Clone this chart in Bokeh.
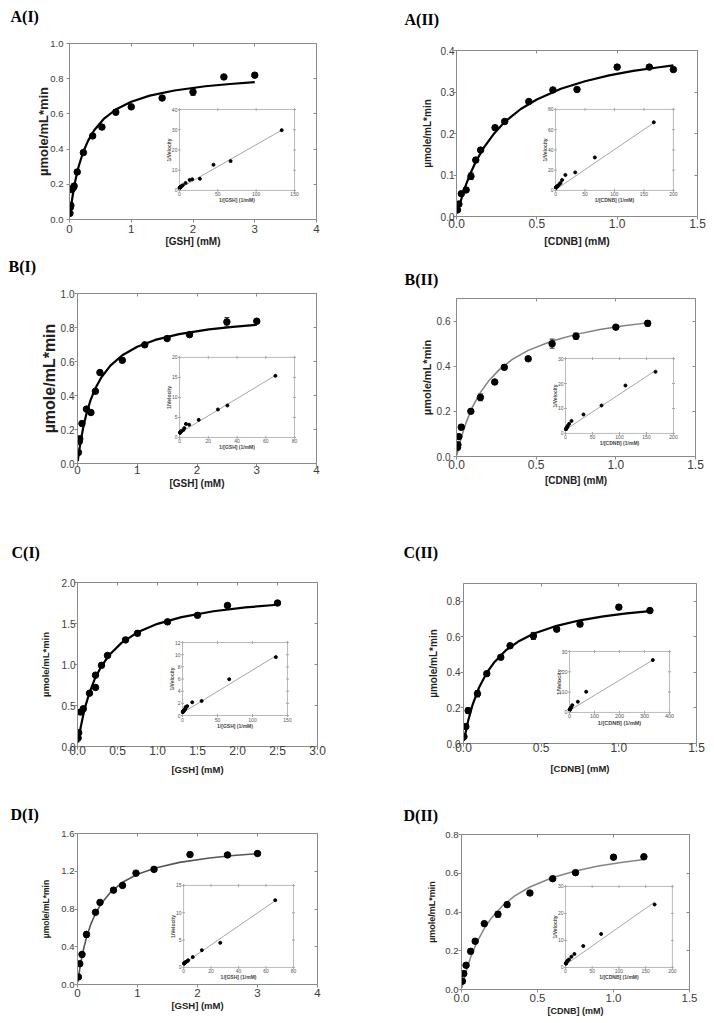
import math
from bokeh.plotting import figure
from bokeh.models import (Range1d, LinearAxis, FixedTicker, NumeralTickFormatter, Title,
                          CustomJSTickFormatter, Whisker, TeeHead, ColumnDataSource)
from bokeh.layouts import column, row
from bokeh.embed import file_html
from bokeh.resources import INLINE
from bokeh.core.properties import value

SANS = "Liberation Sans"
SERIF = "Liberation Serif"
AXIS = "#8a8a8a"
TICKC = "#3c3c3c"
LABC = "#222222"
IAX = "#a8a8a8"

Y_LABEL = "µmole/mL*min"
GSH_LABEL = "[GSH] (mM)"
CDNB_LABEL = "[CDNB] (mM)"
INV_GSH = "1/[GSH] (1/mM)"
INV_CDNB = "1/[CDNB] (1/mM)"
INV_V = "1/Velocity"

# ---------------- A(I) ----------------
A1_X = [0.0075, 0.015, 0.0225, 0.0375, 0.06, 0.075, 0.125, 0.225, 0.375, 0.525, 0.75, 1.0, 1.5, 2.0, 2.5, 3.0]
A1_Y = [0.035, 0.07, 0.08, 0.17, 0.18, 0.19, 0.27, 0.38, 0.475, 0.525, 0.61, 0.64, 0.69, 0.725, 0.81, 0.82]
A1_E = [0.004, 0.005, 0.005, 0.005, 0.005, 0.006, 0.006, 0.006, 0.006, 0.006, 0.015, 0.006, 0.006, 0.02, 0.008, 0.012]
A1_CX = [0.0075, 0.02, 0.04, 0.07, 0.1, 0.15, 0.22, 0.3, 0.4, 0.55, 0.75, 1.0, 1.3, 1.7, 2.2, 2.6, 3.0]
A1_CY = [0.023, 0.059, 0.110, 0.175, 0.230, 0.304, 0.382, 0.447, 0.507, 0.570, 0.625, 0.669, 0.704, 0.733, 0.757, 0.770, 0.780]
A1_IX = [0.33, 0.4, 0.5, 0.67, 1.0, 1.33, 1.9, 2.67, 4.4, 8.0, 13.3, 16.7, 26.7, 44.4, 66.7, 133.3]
A1_IY = [1.22, 1.23, 1.38, 1.45, 1.56, 1.64, 1.9, 2.1, 2.6, 3.7, 5.2, 5.5, 5.8, 12.7, 14.5, 29.8]
A1_FX = [0.0, 133.3]
A1_FY = [1.0, 29.8]
A1_XT = [0, 1, 2, 3, 4]
A1_YT = [0.0, 0.2, 0.4, 0.6, 0.8, 1.0]
A1_IXT = [0, 50, 100, 150]
A1_IYT = [0, 10, 20, 30, 40]

# ---------------- A(II) ----------------
A2_X = [0.006, 0.015, 0.03, 0.06, 0.09, 0.12, 0.15, 0.24, 0.3, 0.45, 0.6, 0.75, 1.0, 1.2, 1.35]
A2_Y = [0.016, 0.03, 0.055, 0.064, 0.097, 0.136, 0.16, 0.214, 0.229, 0.277, 0.305, 0.306, 0.36, 0.36, 0.354]
A2_E = [0.003, 0.003, 0.003, 0.003, 0.008, 0.004, 0.004, 0.004, 0.003, 0.003, 0.003, 0.004, 0.006, 0.003, 0.003]
A2_CX = [0.005, 0.02, 0.05, 0.08, 0.12, 0.17, 0.23, 0.3, 0.4, 0.5, 0.65, 0.8, 0.95, 1.1, 1.25, 1.35]
A2_CY = [0.008, 0.029, 0.067, 0.098, 0.132, 0.166, 0.198, 0.228, 0.259, 0.282, 0.308, 0.326, 0.340, 0.351, 0.359, 0.364]
A2_IX = [0.74, 0.83, 1.0, 1.33, 1.67, 2.22, 3.33, 4.17, 6.67, 8.33, 11.1, 16.7, 33.3, 66.7, 166.7]
A2_IY = [2.83, 2.78, 2.78, 3.27, 3.28, 3.61, 4.37, 4.67, 6.25, 7.35, 10.3, 15.3, 17.8, 32.6, 67.3]
A2_FX = [0.0, 166.7]
A2_FY = [0.8, 66.8]
A2_XT = [0.0, 0.5, 1.0, 1.5]
A2_YT = [0.0, 0.1, 0.2, 0.3, 0.4]
A2_IXT = [0, 50, 100, 150, 200]
A2_IYT = [0, 20, 40, 60, 80]

# ---------------- B(I) ----------------
B1_X = [0.015, 0.03, 0.0375, 0.075, 0.15, 0.225, 0.3, 0.375, 0.75, 1.125, 1.5, 1.875, 2.5, 3.0]
B1_Y = [0.065, 0.13, 0.145, 0.235, 0.32, 0.3, 0.425, 0.535, 0.607, 0.698, 0.735, 0.758, 0.833, 0.837]
B1_E = [0.005, 0.01, 0.006, 0.012, 0.006, 0.006, 0.006, 0.006, 0.006, 0.006, 0.006, 0.01, 0.025, 0.008]
B1_CX = [0.005, 0.02, 0.05, 0.1, 0.15, 0.22, 0.3, 0.4, 0.55, 0.75, 1.0, 1.3, 1.7, 2.2, 2.6, 3.0]
B1_CY = [0.014, 0.055, 0.125, 0.220, 0.293, 0.374, 0.443, 0.507, 0.576, 0.637, 0.687, 0.727, 0.761, 0.789, 0.804, 0.816]
B1_IX = [0.33, 0.4, 0.53, 0.67, 0.89, 1.33, 2.67, 3.33, 4.44, 6.67, 13.3, 26.7, 33.3, 66.7]
B1_IY = [1.19, 1.2, 1.32, 1.36, 1.43, 1.65, 1.87, 2.35, 3.4, 3.2, 4.4, 7.0, 8.0, 15.4]
B1_FX = [0.0, 66.7]
B1_FY = [1.1, 15.5]
B1_XT = [0, 1, 2, 3, 4]
B1_YT = [0.0, 0.2, 0.4, 0.6, 0.8, 1.0]
B1_IXT = [0, 20, 40, 60, 80]
B1_IYT = [0, 5, 10, 15, 20]

# ---------------- B(II) ----------------
B2_X = [0.006, 0.009, 0.015, 0.03, 0.09, 0.15, 0.24, 0.3, 0.45, 0.6, 0.75, 1.0, 1.2]
B2_Y = [0.04, 0.052, 0.088, 0.13, 0.2, 0.262, 0.33, 0.395, 0.433, 0.5, 0.533, 0.573, 0.59]
B2_E = [0.004, 0.004, 0.006, 0.012, 0.005, 0.015, 0.006, 0.006, 0.005, 0.02, 0.014, 0.006, 0.012]
B2_CX = [0.002, 0.01, 0.03, 0.06, 0.1, 0.15, 0.2, 0.27, 0.35, 0.45, 0.6, 0.75, 0.9, 1.05, 1.2]
B2_CY = [0.006, 0.030, 0.084, 0.150, 0.219, 0.284, 0.333, 0.386, 0.430, 0.470, 0.512, 0.541, 0.563, 0.579, 0.592]
B2_IX = [0.83, 1.0, 1.33, 1.67, 2.22, 3.33, 4.17, 6.67, 11.1, 33.3, 66.7, 111.0, 166.7]
B2_IY = [1.69, 1.75, 1.88, 2.0, 2.31, 2.53, 3.03, 3.82, 5.0, 7.6, 11.2, 19.2, 24.7]
B2_FX = [0.0, 166.7]
B2_FY = [1.5, 25.2]
B2_XT = [0.0, 0.5, 1.0, 1.5]
B2_YT = [0.0, 0.2, 0.4, 0.6]
B2_IXT = [0, 50, 100, 150, 200]
B2_IYT = [0, 10, 20, 30]

# ---------------- C(I) ----------------
C1_X = [0.0075, 0.015, 0.0366, 0.072, 0.15, 0.225, 0.225, 0.3, 0.375, 0.6, 0.75, 1.125, 1.5, 1.875, 2.5]
C1_Y = [0.104, 0.168, 0.42, 0.46, 0.65, 0.87, 0.72, 0.99, 1.11, 1.30, 1.38, 1.52, 1.60, 1.72, 1.75]
C1_E = [0.01, 0.01, 0.01, 0.01, 0.01, 0.01, 0.01, 0.01, 0.01, 0.01, 0.012, 0.012, 0.012, 0.02, 0.012]
C1_CX = [0.0075, 0.02, 0.04, 0.07, 0.1, 0.15, 0.22, 0.3, 0.4, 0.55, 0.75, 1.0, 1.3, 1.7, 2.1, 2.5]
C1_CY = [0.049, 0.125, 0.234, 0.375, 0.495, 0.658, 0.833, 0.981, 1.119, 1.264, 1.392, 1.496, 1.578, 1.649, 1.696, 1.729]
C1_IX = [0.4, 0.53, 0.67, 0.89, 1.33, 1.67, 2.67, 3.33, 4.44, 4.44, 6.67, 13.9, 27.3, 66.7, 133.3]
C1_IY = [0.57, 0.58, 0.625, 0.66, 0.72, 0.77, 0.9, 1.0, 1.15, 1.39, 1.54, 2.17, 2.4, 5.96, 9.6]
C1_FX = [0.0, 133.3]
C1_FY = [0.45, 9.8]
C1_XT = [0.0, 0.5, 1.0, 1.5, 2.0, 2.5, 3.0]
C1_YT = [0.0, 0.5, 1.0, 1.5, 2.0]
C1_IXT = [0, 50, 100, 150]
C1_IYT = [0, 2, 4, 6, 8, 10, 12]

# ---------------- C(II) ----------------
C2_X = [0.003, 0.015, 0.03, 0.09, 0.15, 0.24, 0.3, 0.45, 0.6, 0.75, 1.0, 1.2]
C2_Y = [0.039, 0.095, 0.185, 0.28, 0.393, 0.485, 0.55, 0.605, 0.643, 0.672, 0.767, 0.748]
C2_E = [0.004, 0.006, 0.015, 0.018, 0.008, 0.012, 0.008, 0.02, 0.012, 0.015, 0.012, 0.006]
C2_CX = [0.003, 0.01, 0.03, 0.06, 0.1, 0.15, 0.2, 0.27, 0.35, 0.45, 0.6, 0.75, 0.9, 1.05, 1.2]
C2_CY = [0.015, 0.047, 0.128, 0.222, 0.315, 0.398, 0.459, 0.522, 0.572, 0.617, 0.662, 0.693, 0.715, 0.732, 0.745]
C2_IX = [0.83, 1.0, 1.33, 1.67, 2.22, 3.33, 4.17, 6.67, 11.1, 33.3, 66.7, 333.3]
C2_IY = [1.34, 1.3, 1.49, 1.56, 1.65, 1.82, 2.06, 2.54, 3.57, 5.3, 10.2, 25.8]
C2_FX = [0.0, 333.3]
C2_FY = [1.0, 25.8]
C2_XT = [0.0, 0.5, 1.0, 1.5]
C2_YT = [0.0, 0.2, 0.4, 0.6, 0.8]
C2_IXT = [0, 100, 200, 300, 400]
C2_IYT = [0, 10, 20, 30]

# ---------------- D(I) ----------------
D1_X = [0.015, 0.0375, 0.075, 0.15, 0.3, 0.375, 0.6, 0.75, 0.975, 1.275, 1.875, 2.5, 3.0]
D1_Y = [0.08, 0.22, 0.319, 0.53, 0.765, 0.87, 1.0, 1.05, 1.18, 1.22, 1.377, 1.373, 1.388]
D1_E = [0.01, 0.01, 0.01, 0.03, 0.01, 0.01, 0.025, 0.01, 0.01, 0.02, 0.01, 0.01, 0.01]
D1_CX = [0.005, 0.01, 0.03, 0.06, 0.1, 0.15, 0.22, 0.3, 0.4, 0.55, 0.75, 1.0, 1.3, 1.7, 2.2, 2.6, 3.0]
D1_CY = [0.024, 0.048, 0.135, 0.248, 0.373, 0.499, 0.635, 0.752, 0.862, 0.978, 1.083, 1.168, 1.235, 1.294, 1.341, 1.367, 1.387]
D1_IX = [0.33, 0.4, 0.53, 0.78, 1.03, 1.33, 1.67, 2.67, 3.33, 6.67, 13.3, 26.7, 66.7]
D1_IY = [0.72, 0.73, 0.73, 0.82, 0.85, 0.95, 1.0, 1.15, 1.3, 1.9, 3.15, 4.5, 12.3]
D1_FX = [0.0, 66.7]
D1_FY = [0.67, 12.2]
D1_XT = [0, 1, 2, 3, 4]
D1_YT = [0.0, 0.4, 0.8, 1.2, 1.6]
D1_IXT = [0, 20, 40, 60, 80]
D1_IYT = [0, 5, 10, 15]

# ---------------- D(II) ----------------
D2_X = [0.006, 0.015, 0.03, 0.06, 0.09, 0.15, 0.24, 0.3, 0.45, 0.6, 0.75, 1.0, 1.2]
D2_Y = [0.043, 0.082, 0.125, 0.197, 0.249, 0.34, 0.388, 0.438, 0.498, 0.572, 0.603, 0.683, 0.685]
D2_E = [0.003, 0.004, 0.005, 0.005, 0.005, 0.006, 0.015, 0.012, 0.006, 0.006, 0.006, 0.006, 0.006]
D2_CX = [0.003, 0.01, 0.03, 0.06, 0.1, 0.15, 0.2, 0.27, 0.35, 0.45, 0.6, 0.75, 0.9, 1.05, 1.2]
D2_CY = [0.010, 0.033, 0.092, 0.166, 0.242, 0.316, 0.372, 0.432, 0.483, 0.529, 0.578, 0.612, 0.637, 0.656, 0.671]
D2_IX = [0.83, 1.0, 1.33, 1.67, 2.22, 3.33, 4.17, 6.67, 11.1, 16.7, 33.3, 66.7, 166.7]
D2_IY = [1.46, 1.46, 1.66, 1.75, 2.0, 2.28, 2.58, 2.94, 4.0, 5.0, 7.96, 12.4, 23.3]
D2_FX = [0.0, 166.7]
D2_FY = [1.0, 24.2]
D2_XT = [0.0, 0.5, 1.0, 1.5]
D2_YT = [0.0, 0.2, 0.4, 0.6, 0.8]
D2_IXT = [0, 50, 100, 150, 200]
D2_IYT = [0, 10, 20, 30]


def build(title, xlab, ilab, X, Y, E, CX, CY, IX, IY, FX, FY, XT, YT, IXT, IYT, c):
    (X0, X1), (Y0, Y1) = c["xr"], c["yr"]
    p = figure(width=c["w"], height=c["h"], x_range=Range1d(X0, X1), y_range=Range1d(Y0, Y1),
               output_backend="svg", toolbar_location=None, title=None,
               min_border_left=c["mb"][0], min_border_right=c["mb"][1],
               min_border_top=c["mb"][2], min_border_bottom=c["mb"][3])
    p.grid.visible = False
    p.outline_line_color = None
    p.background_fill_color = "white"
    p.border_fill_color = "white"

    xa, ya = p.xaxis[0], p.yaxis[0]
    xa.ticker = FixedTicker(ticks=XT)
    ya.ticker = FixedTicker(ticks=YT)
    xa.formatter = NumeralTickFormatter(format=c["xf"])
    ya.formatter = NumeralTickFormatter(format="0.0")
    for ax in (xa, ya):
        ax.axis_line_color = AXIS
        ax.major_tick_line_color = AXIS
        ax.minor_tick_line_color = None
        ax.major_tick_out = 3
        ax.major_tick_in = 0
        ax.major_label_text_color = TICKC
        ax.major_label_text_font = SANS
        ax.axis_label_text_font = SANS
        ax.axis_label_text_font_style = "bold"
        ax.axis_label_text_color = LABC
    xa.axis_label = xlab
    ya.axis_label = Y_LABEL
    xa.major_label_text_font_size = c["xtf"]
    ya.major_label_text_font_size = c["ytf"]
    xa.axis_label_text_font_size = c["xlf"]
    ya.axis_label_text_font_size = c["ylf"]
    xa.major_label_standoff, xa.axis_label_standoff = c["xs"]
    ya.major_label_standoff, ya.axis_label_standoff = c["ys"]

    for loc, ticks in (("above", XT), ("right", YT)):
        mirror = LinearAxis(ticker=FixedTicker(ticks=ticks), axis_line_color=AXIS,
                            major_tick_line_color=AXIS, minor_tick_line_color=None,
                            major_tick_in=3, major_tick_out=0, major_label_standoff=0,
                            major_label_text_font_size="0px",
                            formatter=CustomJSTickFormatter(code="return ''"))
        p.add_layout(mirror, loc)

    lines, so = c["t"][1], c["t"][2]
    ttext = title + ("\n" if lines == 2 else "")
    p.add_layout(Title(text=ttext, align="left", offset=c["t"][0], standoff=so, vertical_align="bottom",
                       text_font=SERIF, text_font_style="bold", text_font_size="16px",
                       text_color="black"), "above")

    p.line(CX, CY, line_color=c["cc"], line_width=c["cw"])
    src = ColumnDataSource(dict(x=X, upper=[y + e for y, e in zip(Y, E)], lower=[y - e for y, e in zip(Y, E)]))
    p.add_layout(Whisker(source=src, base="x", upper="upper", lower="lower", level="underlay",
                         line_color="#222222", line_width=1,
                         upper_head=TeeHead(size=5, line_color="#222222", line_width=1),
                         lower_head=TeeHead(size=5, line_color="#222222", line_width=1)))
    p.scatter(X, Y, size=6.5, color="black")

    # inset (Lineweaver-Burk)
    fl, fr, fb, ft = c["ibox"]
    ixr, iyr = c["ixr"], c["iyr"]
    sub = p.subplot(x_source=Range1d(*ixr), y_source=Range1d(*iyr),
                    x_target=Range1d(X0 + fl * (X1 - X0), X0 + fr * (X1 - X0)),
                    y_target=Range1d(Y0 + fb * (Y1 - Y0), Y0 + ft * (Y1 - Y0)))
    sub.quad(left=[ixr[0]], right=[ixr[1]], bottom=[iyr[0]], top=[iyr[1]],
             fill_color="white", line_color=IAX, line_width=0.8)
    sub.line(FX, FY, line_color="#9c9c9c", line_width=0.9)
    sub.scatter(IX, IY, size=3, color="black")
    nx, ny = len(IXT), len(IYT)
    for yy in (iyr[0], iyr[1]):
        sub.scatter(IXT, [yy] * nx, marker="dash", angle=math.pi / 2, size=3, line_color=IAX)
    for xx in (ixr[0], ixr[1]):
        sub.scatter([xx] * ny, IYT, marker="dash", size=3, line_color=IAX)
    fs = c["ifs"]
    sub.text(IXT, [iyr[0]] * nx, text=[str(t) for t in IXT], text_font=value(SANS), text_font_size=fs,
             text_color="#555555", text_align="center", text_baseline="top", y_offset=2)
    sub.text([ixr[0]] * ny, IYT, text=[str(t) for t in IYT], text_font=value(SANS), text_font_size=fs,
             text_color="#555555", text_align="right", text_baseline="middle", x_offset=-2)
    sub.text([(ixr[0] + ixr[1]) / 2], [iyr[0]], text=[ilab], text_font=value(SANS), text_font_size=fs,
             text_font_style="bold", text_color="#444444", text_align="center", text_baseline="top",
             y_offset=c["ilo"][1])
    sub.text([ixr[0]], [(iyr[0] + iyr[1]) / 2], text=[INV_V], text_font=value(SANS), text_font_size=fs,
             text_font_style="bold", text_color="#444444", text_align="center", text_baseline="bottom",
             angle=math.pi / 2, x_offset=c["ilo"][0])
    return p


CFG_A1 = dict(w=357, h=252, mb=(69, 41, 43, 33), xr=(0, 4), yr=(0, 1.0), xf="0",
              xtf="11.5px", ytf="9.5px", xlf="10px", ylf="13px", xs=(2, 0), ys=(3, -4),
              t=(-59, 2, 3), cc="black", cw=2.2,
              ibox=(0.445, 0.911, 0.165, 0.625), ixr=(0, 150), iyr=(0, 40), ifs="5px", ilo=(-7.5, 7))
CFG_A2 = dict(w=356, h=252, mb=(99, 16, 50, 36), xr=(0, 1.5), yr=(0, 0.4), xf="0.0",
              xtf="12px", ytf="10px", xlf="10.5px", ylf="10px", xs=(-1, 4), ys=(-1, 5),
              t=(-52, 2, 12), cc="black", cw=2.2,
              ibox=(0.411, 0.900, 0.157, 0.645), ixr=(0, 200), iyr=(0, 80), ifs="5px", ilo=(-7.5, 7))
CFG_B1 = dict(w=357, h=248, mb=(77, 41, 41, 37), xr=(0, 4), yr=(0, 1.0), xf="0",
              xtf="11.5px", ytf="10px", xlf="10px", ylf="16px", xs=(-1, 1), ys=(0, 0),
              t=(-69, 2, 3), cc="black", cw=2.2,
              ibox=(0.427, 0.908, 0.153, 0.624), ixr=(0, 80), iyr=(0, 20), ifs="5px", ilo=(-7.5, 7))
CFG_B2 = dict(w=356, h=248, mb=(99, 18, 46, 44), xr=(0, 1.5), yr=(0, 0.7), xf="0.0",
              xtf="12px", ytf="10px", xlf="10px", ylf="11px", xs=(0, 3), ys=(3, 1),
              t=(-52, 1, 21), cc="#808080", cw=1.5,
              ibox=(0.456, 0.908, 0.146, 0.620), ixr=(0, 200), iyr=(0, 30), ifs="5px", ilo=(-7.5, 7))
CFG_C1 = dict(w=357, h=290, mb=(77, 40, 82, 44), xr=(0, 3.0), yr=(0, 2.0), xf="0.0",
              xtf="12px", ytf="10px", xlf="9.5px", ylf="9.5px", xs=(-4, 6), ys=(-1, 8),
              t=(-66, 2, 10), cc="black", cw=2.2,
              ibox=(0.4375, 0.875, 0.189, 0.634), ixr=(0, 150), iyr=(0, 12), ifs="5px", ilo=(-7.5, 7))
CFG_C2 = dict(w=356, h=290, mb=(106, 17, 83, 47), xr=(0, 1.5), yr=(0, 0.9), xf="0.0",
              xtf="12px", ytf="10px", xlf="9.5px", ylf="10px", xs=(-4, 8), ys=(0, 5),
              t=(-60, 2, 12), cc="black", cw=2.2,
              ibox=(0.455, 0.884, 0.194, 0.575), ixr=(0, 400), iyr=(0, 30), ifs="5.5px", ilo=(-8, 7.5))
CFG_D1 = dict(w=357, h=232, mb=(77, 40, 43, 38), xr=(0, 4), yr=(0, 1.6), xf="0",
              xtf="11.5px", ytf="9.5px", xlf="9.5px", ylf="8.5px", xs=(1, 0), ys=(0, 7),
              t=(-67, 1, 22), cc="#555555", cw=1.6,
              ibox=(0.442, 0.900, 0.113, 0.656), ixr=(0, 80), iyr=(0, 15), ifs="5px", ilo=(-7.5, 7))
CFG_D2 = dict(w=356, h=232, mb=(104, 24, 44, 33), xr=(0, 1.5), yr=(0, 0.8), xf="0.0",
              xtf="11.5px", ytf="9.5px", xlf="9px", ylf="9px", xs=(1, 1), ys=(0, 5),
              t=(-58, 1, 22), cc="#858585", cw=1.5,
              ibox=(0.456, 0.925, 0.142, 0.665), ixr=(0, 200), iyr=(0, 30), ifs="5px", ilo=(-7.5, 7))

pa1 = build("A(I)", GSH_LABEL, INV_GSH, A1_X, A1_Y, A1_E, A1_CX, A1_CY, A1_IX, A1_IY, A1_FX, A1_FY,
            A1_XT, A1_YT, A1_IXT, A1_IYT, CFG_A1)
pa2 = build("A(II)", CDNB_LABEL, INV_CDNB, A2_X, A2_Y, A2_E, A2_CX, A2_CY, A2_IX, A2_IY, A2_FX, A2_FY,
            A2_XT, A2_YT, A2_IXT, A2_IYT, CFG_A2)
pb1 = build("B(I)", GSH_LABEL, INV_GSH, B1_X, B1_Y, B1_E, B1_CX, B1_CY, B1_IX, B1_IY, B1_FX, B1_FY,
            B1_XT, B1_YT, B1_IXT, B1_IYT, CFG_B1)
pb2 = build("B(II)", CDNB_LABEL, INV_CDNB, B2_X, B2_Y, B2_E, B2_CX, B2_CY, B2_IX, B2_IY, B2_FX, B2_FY,
            B2_XT, B2_YT, B2_IXT, B2_IYT, CFG_B2)
pc1 = build("C(I)", GSH_LABEL, INV_GSH, C1_X, C1_Y, C1_E, C1_CX, C1_CY, C1_IX, C1_IY, C1_FX, C1_FY,
            C1_XT, C1_YT, C1_IXT, C1_IYT, CFG_C1)
pc2 = build("C(II)", CDNB_LABEL, INV_CDNB, C2_X, C2_Y, C2_E, C2_CX, C2_CY, C2_IX, C2_IY, C2_FX, C2_FY,
            C2_XT, C2_YT, C2_IXT, C2_IYT, CFG_C2)
pd1 = build("D(I)", GSH_LABEL, INV_GSH, D1_X, D1_Y, D1_E, D1_CX, D1_CY, D1_IX, D1_IY, D1_FX, D1_FY,
            D1_XT, D1_YT, D1_IXT, D1_IYT, CFG_D1)
pd2 = build("D(II)", CDNB_LABEL, INV_CDNB, D2_X, D2_Y, D2_E, D2_CX, D2_CY, D2_IX, D2_IY, D2_FX, D2_FY,
            D2_XT, D2_YT, D2_IXT, D2_IYT, CFG_D2)

layout = column(row(column(pa1), column(pa2)), row(column(pb1), column(pb2)),
                row(column(pc1), column(pc2)), row(column(pd1), column(pd2)))
open("out.html", "w").write(file_html(layout, INLINE))
